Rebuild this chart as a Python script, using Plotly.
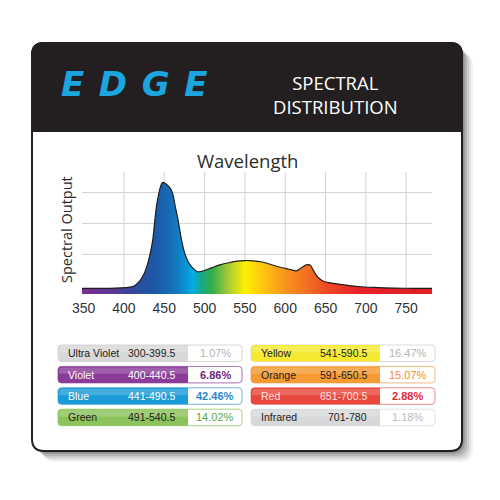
import plotly.graph_objects as go

# ---------------- data ----------------
WAVELENGTH = [348, 370, 390, 405, 412, 420, 425, 429, 433, 436, 440, 445, 448, 453, 458,
              461, 464, 467, 471, 475, 482, 491, 497, 505, 512, 520, 530, 540, 550, 560,
              570, 580, 590, 600, 605, 614, 620, 626, 631, 634, 638, 643, 649, 660, 670,
              690, 710, 735, 760, 782]
OUTPUT = [1.8, 1.8, 1.9, 2.1, 2.5, 4.3, 6.5, 9.3, 13.5, 17.8, 27.4, 34.0, 35.7, 35.0, 33.6,
          31.5, 27.5, 23.8, 17.8, 13.3, 9.3, 7.1, 7.3, 8.0, 8.7, 9.4, 10.0, 10.5, 10.7, 10.6,
          10.3, 9.6, 8.8, 8.2, 7.9, 7.4, 8.4, 9.3, 9.3, 8.0, 6.2, 4.8, 3.9, 3.4, 3.0,
          2.4, 2.1, 1.9, 1.8, 1.8]
X_TICKS = [350, 400, 450, 500, 550, 600, 650, 700, 750]

BAND_NAMES = ["Ultra Violet", "Violet", "Blue", "Green", "Yellow", "Orange", "Red", "Infrared"]
BAND_RANGES = ["300-399.5", "400-440.5", "441-490.5", "491-540.5",
               "541-590.5", "591-650.5", "651-700.5", "701-780"]
BAND_SHARES = [1.07, 6.86, 42.46, 14.02, 16.47, 15.07, 2.88, 1.18]

# ---------------- styles ----------------
W, H = 500, 500
SPECTRUM_NM = [348, 385, 415, 440, 460, 475, 485, 497, 510, 530, 550, 575, 600, 630, 655, 690, 782]
SPECTRUM_COLORS = ["#7b2c8f", "#5b3794", "#2e4b9d", "#1c5aa9", "#1470b9", "#0c8fd1", "#05abe6",
                   "#17a980", "#35ae4b", "#aacb35", "#fff000", "#fdc112", "#f7941d", "#f26b22",
                   "#ee4524", "#e8232a", "#e01e26"]
BAND_FILL = ["#d8d8d9", "#8b3c99", "#1b9bd7", "#8cc35a", "#f6ea30", "#f69b31", "#e8473c", "#d7d8da"]
BAND_TEXT = ["#222222", "#ffffff", "#ffffff", "#222222", "#222222", "#222222", "#ffe3df", "#222222"]
BAND_PCT = ["#b3b3b3", "#6b2a7c", "#2a86cc", "#5aa83e", "#b3b3b3", "#f08c2a", "#e1283c", "#bbbbbb"]
BAND_BORDER = ["#d6d6d6", "#a66fb3", "#6ab6e2", "#a8d27f", "#dadada", "#f6b67a", "#ec8a8d", "#e0e0e0"]
BAND_BOLD = [False, True, True, False, False, False, True, False]


def P(px, py):
    return f"{px / W:.5f},{1 - py / H:.5f}"


def rrect(x0, y0, x1, y1, r, tl=True, tr=True, br=True, bl=True):
    a, b, c, d = (r if tl else 0), (r if tr else 0), (r if br else 0), (r if bl else 0)
    return (f"M {P(x0 + a, y0)} L {P(x1 - b, y0)} Q {P(x1, y0)} {P(x1, y0 + b)} "
            f"L {P(x1, y1 - c)} Q {P(x1, y1)} {P(x1 - c, y1)} "
            f"L {P(x0 + d, y1)} Q {P(x0, y1)} {P(x0, y1 - d)} "
            f"L {P(x0, y0 + a)} Q {P(x0, y0)} {P(x0 + a, y0)} Z")


shapes = []
annotations = []

# card shadow
for k, op in [(11, 0.05), (9, 0.07), (7, 0.09), (5, 0.11), (3, 0.13), (1.5, 0.15)]:
    shapes.append(dict(type="path", xref="paper", yref="paper", layer="below",
                       path=rrect(32 + k, 43 + k, 462 + k, 451 + k, 13),
                       fillcolor=f"rgba(0,0,0,{op})", line=dict(width=0)))
# card body
shapes.append(dict(type="path", xref="paper", yref="paper", layer="below",
                   path=rrect(32, 43, 462, 451, 12), fillcolor="white",
                   line=dict(color="#231f20", width=2)))
# header
shapes.append(dict(type="path", xref="paper", yref="paper", layer="below",
                   path=rrect(32, 43, 462, 131, 12, br=False, bl=False), fillcolor="#231f20",
                   line=dict(color="#231f20", width=2)))

# vertical grid lines
for t in X_TICKS[1:]:
    shapes.append(dict(type="line", xref="x", yref="y domain", layer="below",
                       x0=t, x1=t, y0=0, y1=1, line=dict(color="#d3d3d3", width=1)))

# table rows
COLS = [(58, 188, 242), (251, 380, 435)]
ROW_TOP, ROW_PITCH, ROW_H = 345, 21.4, 16.5
for i, name in enumerate(BAND_NAMES):
    c, r = divmod(i, 4)
    x0, xs, x1 = COLS[c]
    y0 = ROW_TOP + r * ROW_PITCH
    y1 = y0 + ROW_H
    shapes.append(dict(type="path", xref="paper", yref="paper", layer="above",
                       path=rrect(x0, y0, x1, y1, 3.5), fillcolor="white",
                       line=dict(color=BAND_BORDER[i], width=1)))
    shapes.append(dict(type="path", xref="paper", yref="paper", layer="above",
                       path=rrect(x0, y0, xs, y1, 3.5, tr=False, br=False), fillcolor=BAND_FILL[i],
                       line=dict(width=0)))
    shapes.append(dict(type="path", xref="paper", yref="paper", layer="above",
                       path=rrect(x0 + 1, y0 + 1, xs, y0 + ROW_H * 0.45, 3, tr=False, br=False, bl=False),
                       fillcolor="rgba(255,255,255,0.18)", line=dict(width=0)))
    ym = 1 - (y0 + y1) / 2 / H
    font = dict(family="Liberation Sans", size=10.5, color=BAND_TEXT[i])
    annotations.append(dict(x=(x0 + 8) / W, y=ym, xref="paper", yref="paper", text=name,
                            showarrow=False, xanchor="left", yanchor="middle", font=font))
    annotations.append(dict(x=(xs - 11) / W, y=ym, xref="paper", yref="paper", text=BAND_RANGES[i],
                            showarrow=False, xanchor="right", yanchor="middle", font=font))
    pct = f"{BAND_SHARES[i]:.2f}%"
    if BAND_BOLD[i]:
        pct = f"<b>{pct}</b>"
    annotations.append(dict(x=(xs + x1) / 2 / W, y=ym, xref="paper", yref="paper", text=pct,
                            showarrow=False, xanchor="center", yanchor="middle",
                            font=dict(family="Liberation Sans", size=11, color=BAND_PCT[i])))

# header texts
annotations.append(dict(x=134 / W, y=1 - 84 / H, xref="paper", yref="paper",
                        text="<b><i>E\u2004\u200aD\u2004\u200aG\u2004\u200aE</i></b>", showarrow=False,
                        font=dict(family="DejaVu Sans", size=34, color="#1ba6df"),
                        xanchor="center", yanchor="middle"))
annotations.append(dict(x=335 / W, y=1 - 95 / H, xref="paper", yref="paper",
                        text="SPECTRAL<br>DISTRIBUTION",
                        showarrow=False, font=dict(family="Open Sans", size=18.5, color="white"),
                        xanchor="center", yanchor="middle"))
annotations.append(dict(x=247 / W, y=1 - 160 / H, xref="paper", yref="paper", text="Wavelength",
                        showarrow=False, font=dict(family="Open Sans", size=18.5, color="#2b2b2b"),
                        xanchor="center", yanchor="middle"))
annotations.append(dict(x=67 / W, y=1 - 230 / H, xref="paper", yref="paper", text="Spectral Output",
                        showarrow=False, textangle=-90,
                        font=dict(family="Open Sans", size=14.5, color="#2b2b2b"),
                        xanchor="center", yanchor="middle"))

span = SPECTRUM_NM[-1] - SPECTRUM_NM[0]
colorscale = [[(nm - SPECTRUM_NM[0]) / span, col] for nm, col in zip(SPECTRUM_NM, SPECTRUM_COLORS)]

fig = go.Figure()
fig.add_trace(go.Scatter(
    x=WAVELENGTH, y=OUTPUT, mode="lines", fill="tozeroy",
    line=dict(color="#1e1e1e", width=1.2, shape="spline", smoothing=0.6),
    fillgradient=dict(type="horizontal", colorscale=colorscale,
                      start=SPECTRUM_NM[0], stop=SPECTRUM_NM[-1]),
    hoverinfo="skip"))

fig.update_layout(
    width=W, height=H, margin=dict(l=0, r=0, t=0, b=0, pad=0, autoexpand=False),
    paper_bgcolor="white", plot_bgcolor="rgba(0,0,0,0)", showlegend=False,
    xaxis=dict(domain=[82 / W, 432 / W], range=[348, 782], tickvals=X_TICKS,
               ticktext=[str(t) for t in X_TICKS], showgrid=False, zeroline=False,
               showline=False, ticks="", ticklabelstandoff=4, automargin=False,
               tickfont=dict(family="Liberation Sans", size=14, color="#333333")),
    yaxis=dict(domain=[1 - 294 / H, 1 - 172 / H], range=[0, 39], tickvals=[12.5, 22.5, 32.5],
               showticklabels=False, showgrid=True, gridcolor="#d3d3d3", gridwidth=1,
               zeroline=False, showline=False, ticks="", automargin=False),
    shapes=shapes, annotations=annotations,
)

fig.write_html("out.html")
